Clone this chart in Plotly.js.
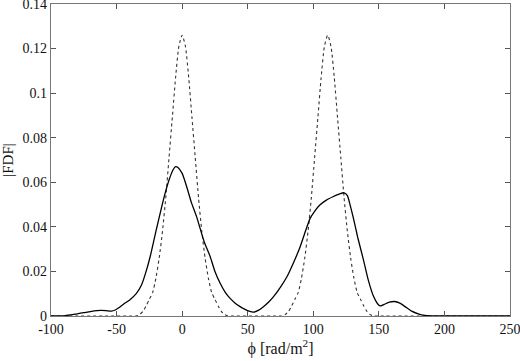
<!DOCTYPE html>
<html>
<head>
<meta charset="utf-8">
<script src="https://cdn.plot.ly/plotly-3.0.1.min.js"></script>
<style>html,body{margin:0;padding:0;background:#fff;}#chart{width:520px;height:361px;}</style>
</head>
<body>
<div id="chart"></div>
<script>
// Observed |FDF| (solid line)
var phiObs = [-100,-90,-85,-80,-75,-70,-65,-62,-58,-54,-51,-48,-45,-40,-35,-31,-28,-24.4,-20,-16,-13,-10,-7,-5,-3,0,1,4,7,11,13.7,17,21.4,25,29,33,36.6,40,44.2,48,51,54.4,58,62,66,69.7,75,79.9,85,90,94,97.6,101,105,110,115,120,123.5,126,128,130.4,134,138.3,142,146,149,151,154,158,162,166,170,175,180,185,190,200,250];
var fdfObs = [0,0.0001,0.0005,0.001,0.0015,0.002,0.0024,0.0025,0.0024,0.0022,0.0027,0.0038,0.0052,0.0072,0.010,0.0139,0.019,0.0266,0.038,0.048,0.055,0.061,0.0655,0.067,0.0665,0.064,0.0625,0.057,0.051,0.0446,0.0393,0.033,0.0266,0.020,0.0147,0.0105,0.0079,0.006,0.0042,0.003,0.0022,0.0017,0.0025,0.0042,0.0063,0.0087,0.013,0.0176,0.024,0.0311,0.038,0.0438,0.047,0.0498,0.052,0.0535,0.0548,0.0553,0.054,0.050,0.0444,0.035,0.0251,0.016,0.0087,0.0055,0.0045,0.0052,0.0062,0.0065,0.0058,0.0042,0.0022,0.0010,0.0003,0.0001,0,0];

// Model |FDF| (dotted line)
var phiModel = [-100,-40,-35,-32.5,-30,-27.5,-25,-22.5,-20,-17.5,-15,-12.5,-10,-7.5,-5,-2.5,0,2.5,5,7.5,10,12.5,15,17.5,20,22.5,25,27.5,30,32.5,35,40,71,76,78.5,81,83.5,86,88.5,91,93.5,96,98.5,101,103.5,106,108.5,111,113.5,116,118.5,121,123.5,126,128.5,131,133.5,136,138.5,141,143.5,146,151,250];
var fdfModel = [0,0,0,0.0006,0.002,0.0045,0.0075,0.0105,0.017,0.026,0.038,0.053,0.071,0.089,0.107,0.121,0.126,0.121,0.107,0.089,0.071,0.053,0.038,0.026,0.017,0.0105,0.0075,0.0045,0.002,0.0006,0,0,0,0,0.0006,0.002,0.0045,0.0075,0.0105,0.017,0.026,0.038,0.053,0.071,0.089,0.107,0.121,0.126,0.121,0.107,0.089,0.071,0.053,0.038,0.026,0.017,0.0105,0.0075,0.0045,0.002,0.0006,0,0,0];

var xTickVals = [-100,-50,0,50,100,150,200,250];
var xTickText = ['-100','-50','0','50','100','150','200','250'];
var yTickVals = [0,0.02,0.04,0.06,0.08,0.1,0.12,0.14];
var yTickText = ['0','0.02','0.04','0.06','0.08','0.1','0.12','0.14'];

var serif = "Times New Roman";

var traces = [
  {x: phiModel, y: fdfModel, mode: 'lines', line: {color: '#333', width: 1.1, dash: 'dot', shape: 'spline', smoothing: 0.6}, hoverinfo: 'skip'},
  {x: phiObs, y: fdfObs, mode: 'lines', line: {color: '#000', width: 1.3, shape: 'spline', smoothing: 0.6}, hoverinfo: 'skip'}
];

var axisCommon = {
  showgrid: false, zeroline: false, showline: true, linecolor: '#777', linewidth: 1.2,
  ticks: 'inside', ticklen: 5, tickcolor: '#555', tickwidth: 1, mirror: 'ticks',
  ticklabeloverflow: 'allow',
  tickfont: {family: serif, size: 14, color: '#111'}
};

var layout = {
  width: 520, height: 361,
  margin: {l: 51, r: 10, t: 4, b: 45},
  paper_bgcolor: '#fff', plot_bgcolor: '#fff',
  showlegend: false,
  font: {family: serif, color: '#111'},
  xaxis: Object.assign({}, axisCommon, {
    range: [-100, 250.0001], tickmode: 'array', tickvals: xTickVals, ticktext: xTickText,
    title: {text: 'ϕ [rad/m<sup>2</sup>]', font: {size: 16, family: serif, color: '#111'}, standoff: 4}
  }),
  yaxis: Object.assign({}, axisCommon, {
    range: [0, 0.1400001], tickmode: 'array', tickvals: yTickVals, ticktext: yTickText,
    title: {text: '|FDF|', font: {size: 15, family: serif, color: '#111'}, standoff: 6}
  })
};

Plotly.newPlot('chart', traces, layout, {staticPlot: true, displayModeBar: false});
</script>
</body>
</html>
